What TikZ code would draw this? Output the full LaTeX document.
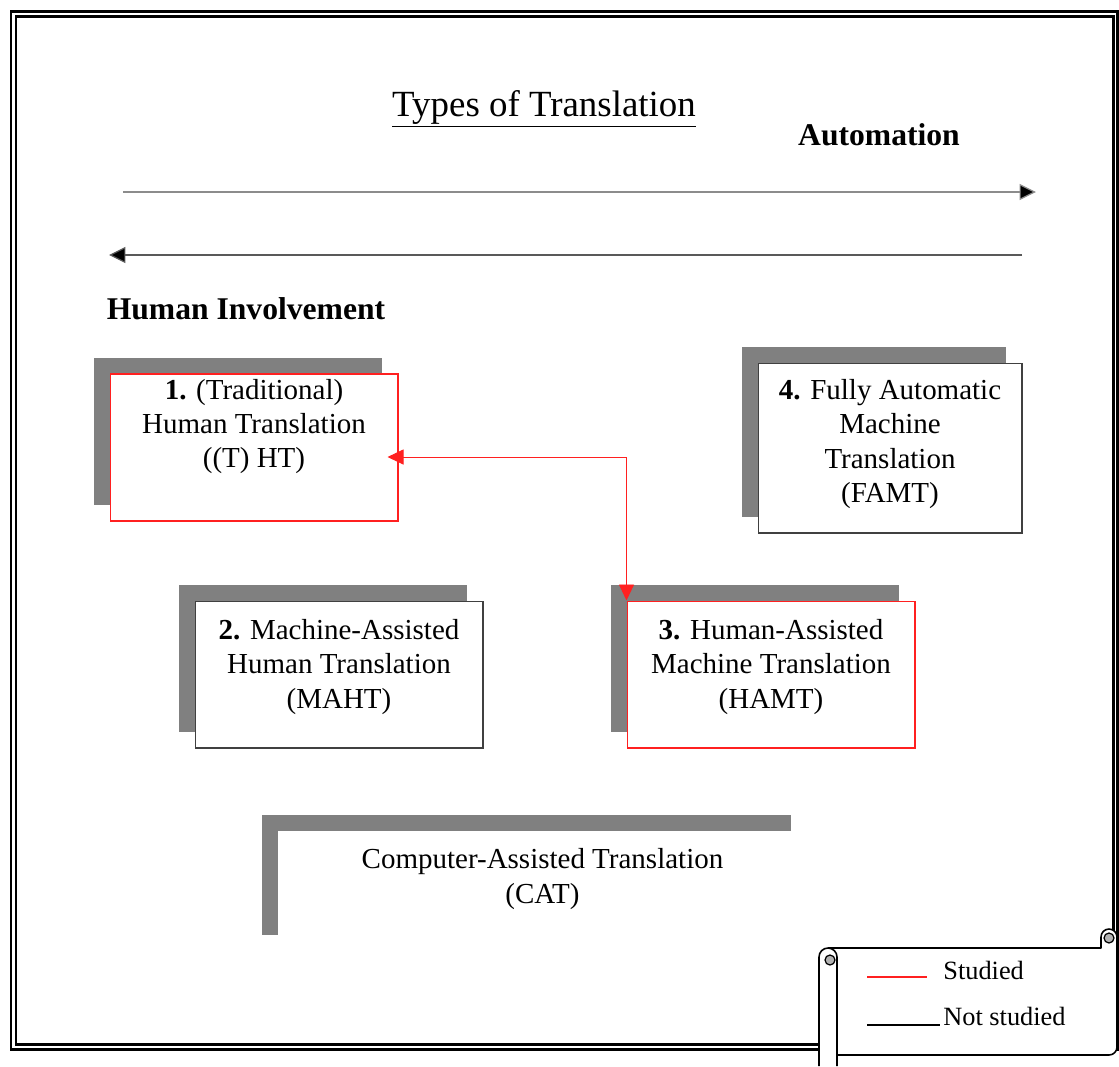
\documentclass[tikz,border=0pt]{standalone}
\usepackage{fontspec}
\setmainfont{Liberation Serif}
\usetikzlibrary{arrows.meta,shadows}
\definecolor{shade}{HTML}{808080}
\definecolor{studred}{HTML}{FF2020}

\begin{document}
\begin{tikzpicture}[
    x=0.02cm,y=-0.02cm,
    typebox/.style={draw=black!75,line width=0.6pt,fill=white,inner sep=0pt,
        minimum width=5.76cm,minimum height=2.94cm,
        general shadow={fill=shade,shadow xshift=-0.32cm,shadow yshift=0.32cm}},
    studbox/.style={typebox,draw=studred},
    boxtext/.style={align=center,font=\fontsize{16.5}{19.6}\selectfont,inner sep=0pt},
    heading/.style={font=\fontsize{18}{21}\selectfont\bfseries},
    axis/.style={line width=0.7pt},
    link/.style={{Triangle[length=0.32cm,width=0.3cm]}-{Triangle[length=0.32cm,width=0.3cm]},
        draw=studred,line width=0.5pt},
    scroll/.style={draw=black,line width=0.9pt,fill=white,line join=round}
]
    \useasboundingbox (0,0) rectangle (1119,1066);

    % double frame
    \draw[line width=1.7pt] (11,11) rectangle (1117,1049);
    \draw[line width=1.7pt] (16,16) rectangle (1113,1044);

    % title and axes
    \node[font=\fontsize{21}{25}\selectfont] (title) at (544,109) {\underline{Types of Translation}};
    \node[heading] (auto) at (879,135) {Automation};
    \node[heading] (human) at (246,309) {Human Involvement};

    \coordinate (autoL) at (123,192);
    \coordinate (autoR) at (1036,192);
    \coordinate (humR) at (1022,255);
    \coordinate (humL) at (109,255);
    \draw[axis,draw=black!45,-{Triangle[length=0.33cm,width=0.32cm,fill=black]}] (autoL)--(autoR);
    \draw[axis,draw=black!65,-{Triangle[length=0.33cm,width=0.32cm,fill=black]}] (humR)--(humL);

    % the four types
    \node[studbox] (ht) at (254,447.5) {};
    \node[boxtext] (htx) at ([yshift=0.42cm]ht.center)
        {\textbf{1.} (Traditional)\\Human Translation\\((T) HT)};

    \node[typebox,minimum width=5.28cm,minimum height=3.4cm] (famt) at (890,448) {};
    \node[boxtext] (famtx) at ([yshift=0.08cm]famt.center)
        {\textbf{4.} Fully Automatic\\Machine\\Translation\\(FAMT)};

    \node[typebox] (maht) at (339,674.5) {};
    \node[boxtext] (mahtx) at ([yshift=0.15cm]maht.center)
        {\textbf{2.} Machine-Assisted\\Human Translation\\(MAHT)};

    \node[studbox] (hamt) at (771,674.5) {};
    \node[boxtext] (hamtx) at ([yshift=0.15cm]hamt.center)
        {\textbf{3.} Human-Assisted\\Machine Translation\\(HAMT)};

    \node[typebox,draw=none,minimum width=10.58cm,minimum height=2.4cm] (cat) at (542.5,891) {};
    \node[boxtext] (catx) at ([yshift=0.24cm]cat.center)
        {Computer-Assisted Translation\\(CAT)};

    \draw[link] (hamt.north west) |- ([xshift=-0.22cm,yshift=-0.19cm]ht.east);

    % legend scroll
    \draw[scroll] (828,948) -- (1101,948) -- (1101,937)
        arc[start angle=180,end angle=360,radius=8]
        -- (1117,1047) arc[start angle=0,end angle=90,radius=8]
        -- (837,1055);
    \draw[scroll] (819,1066) -- (819,957)
        arc[start angle=180,end angle=360,radius=9] -- (837,1066);
    \draw[line width=0.7pt,fill=black!30] (830,960) circle[radius=5];
    \draw[line width=0.7pt,fill=black!30] (1109,938) circle[radius=5];

    \node[anchor=west,font=\fontsize{15}{18}\selectfont,inner sep=0pt] (stud) at (943,970) {Studied};
    \node[anchor=west,font=\fontsize{15}{18}\selectfont,inner sep=0pt] (nstud) at (943,1016) {Not studied};
    \coordinate (studA) at (867,977);
    \coordinate (studB) at (927,977);
    \coordinate (nstudA) at (867,1025);
    \coordinate (nstudB) at (940,1025);
    \draw[studred,line width=0.8pt] (studA)--(studB);
    \draw[black,line width=0.8pt] (nstudA)--(nstudB);
\end{tikzpicture}
\end{document}
